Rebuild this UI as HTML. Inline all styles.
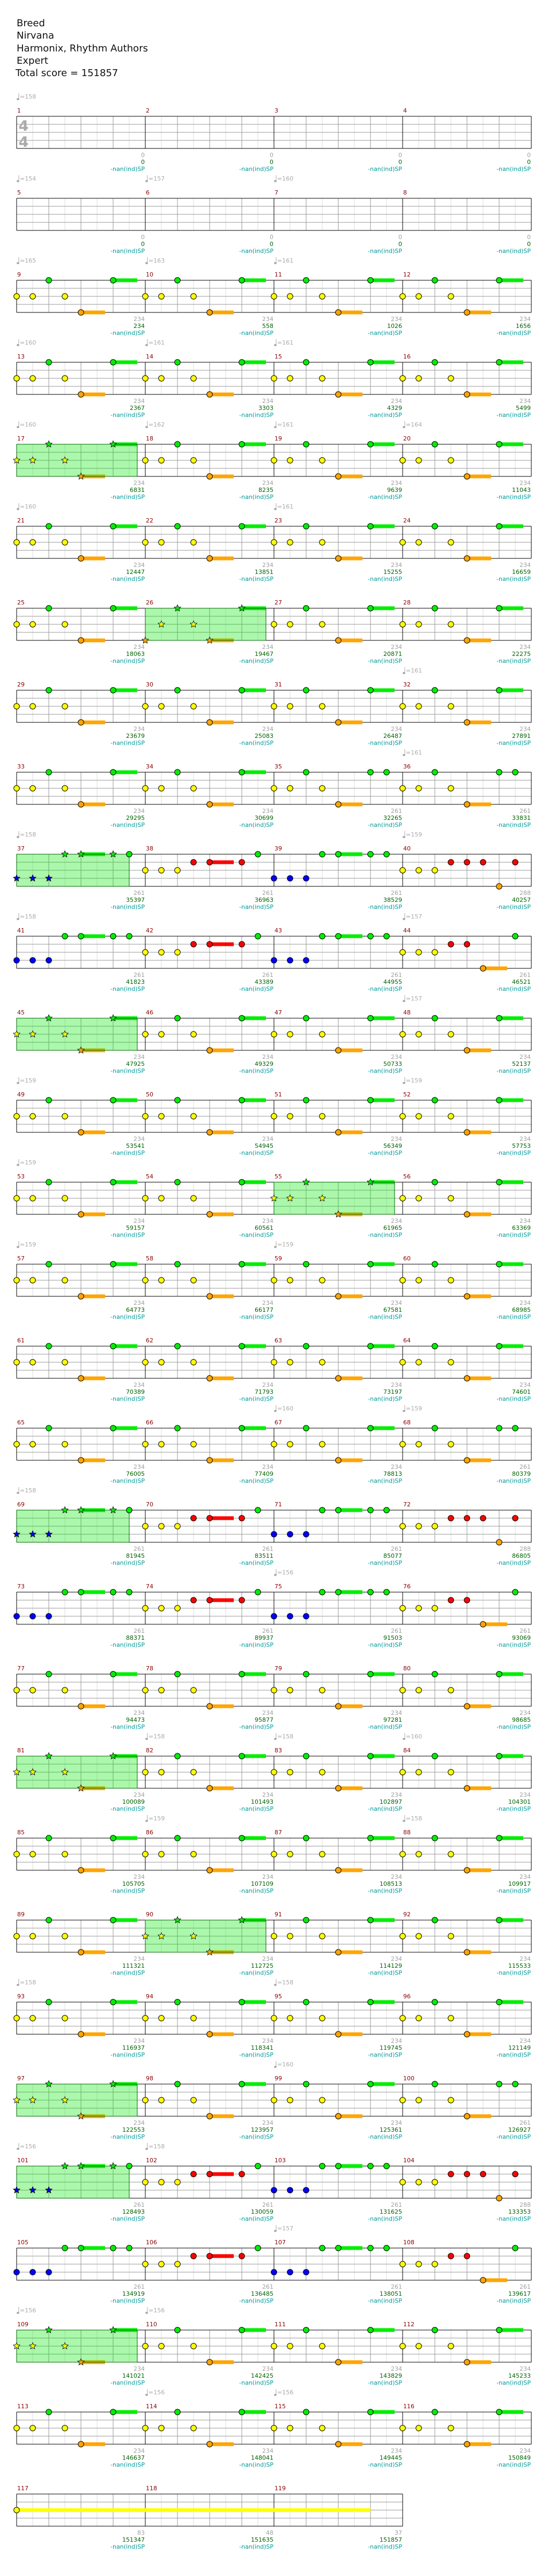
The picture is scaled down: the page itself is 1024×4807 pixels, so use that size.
<!DOCTYPE html>
<html><head><meta charset="utf-8"><title>Breed - Nirvana chart</title>
<style>
html,body{margin:0;padding:0;background:#fff;}
svg{display:block;}
</style></head>
<body>
<svg id="chart" xmlns="http://www.w3.org/2000/svg" width="1024" height="4807" viewBox="0 0 1024 4807">
<g font-family="'DejaVu Sans', 'Liberation Sans', sans-serif" font-size="18" fill="#111">
<text x="31" y="49">Breed</text>
<text x="31" y="72">Nirvana</text>
<text x="31" y="96">Harmonix, Rhythm Authors</text>
<text x="31" y="119">Expert</text>
<text x="29" y="142">Total score = 151857</text>
</g>
<g id="rows"></g>
</svg>
<script>
// ---- chart data ----
const measureCount = 119;
const patternA  = [[2,0,0],[2,0.5,0],[0,1,0],[2,1.5,0],[4,2,0.75],[0,3,0.75]];
const patternA2 = [[4,0,0],[2,0.5,0],[0,1,0],[2,1.5,0],[4,2,0.75],[0,3,0.75]];
const patternV  = [[2,0,0],[2,0.5,0],[0,1,0],[2,1.5,0],[4,2,0.75],[0,3,0],[0,3.5,0]];
const patternB1 = [[3,0,0],[3,0.5,0],[3,1,0],[0,1.5,0],[0,2,0.75],[0,3,0],[0,3.5,0]];
const patternB2 = [[2,0,0],[2,0.5,0],[2,1,0],[1,1.5,0],[1,2,0.75],[1,3,0],[0,3.5,0]];
const patternB3 = [[2,0,0],[2,0.5,0],[2,1,0],[1,1.5,0],[1,2,0],[1,2.5,0],[4,3,0],[1,3.5,0]];
const patternB4 = [[2,0,0],[2,0.5,0],[2,1,0],[1,1.5,0],[1,2,0],[4,2.5,0.75],[0,3.5,0]];
const patternEnd = [[2,0,11]];
const patterns = {E:[],A:patternA,A2:patternA2,V:patternV,B1:patternB1,B2:patternB2,B3:patternB3,B4:patternB4,END:patternEnd};
const measurePatterns = [
 'E','E','E','E','E','E','E','E',
 'A','A','A','A','A','A','A','A','A','A','A','A','A','A','A','A','A','A2','A','A','A','A','A','A','A','A','V','V',
 'B1','B2','B1','B3','B1','B2','B1','B4',
 'A','A','A','A','A','A','A','A','A','A','A','A','A','A','A','A','A','A','A','A','A','A','A','V',
 'B1','B2','B1','B3','B1','B2','B1','B4',
 'A','A','A','A','A','A','A','A','A','A','A','A','A','A','A','A','A','A','A','A','A','A','A','V',
 'B1','B2','B1','B3','B1','B2','B1','B4',
 'A','A','A','A','A','A','A','A',
 'END','E','E'];
const spMeasures = [17,26,37,45,55,69,81,90,97,101,109];
const spLengths  = [3.75,3.75,3.5,3.75,3.75,3.5,3.75,3.75,3.75,3.5,3.75];
const measureScores = [0,0,0,0,0,0,0,0,
 234,558,1026,1656,2367,3303,4329,5499,6831,8235,9639,11043,12447,13851,15255,16659,
 18063,19467,20871,22275,23679,25083,26487,27891,29295,30699,32265,33831,
 35397,36963,38529,40257,41823,43389,44955,46521,
 47925,49329,50733,52137,53541,54945,56349,57753,59157,60561,61965,63369,64773,66177,67581,68985,
 70389,71793,73197,74601,76005,77409,78813,80379,
 81945,83511,85077,86805,88371,89937,91503,93069,
 94473,95877,97281,98685,100089,101493,102897,104301,105705,107109,108513,109917,111321,112725,114129,115533,
 116937,118341,119745,121149,122553,123957,125361,126927,
 128493,130059,131625,133353,134919,136485,138051,139617,
 141021,142425,143829,145233,146637,148041,149445,150849,
 151347,151635,151857];
const baseScoreByPattern = {E:0,A:234,A2:234,V:261,B1:261,B2:261,B3:288,B4:261};
const endBaseScores = [83,48,37];
const tempoMeasures = [1,5,6,7,9,10,11,13,14,15,17,18,19,20,21,23,32,36,37,40,41,44,48,49,52,53,57,59,67,68,69,75,82,83,84,86,88,93,95,99,101,102,107,109,110,114,115];
const tempoValues   = [158,154,157,160,165,163,161,160,161,161,160,162,161,164,160,161,161,161,158,159,158,157,157,159,159,159,159,159,160,159,158,156,158,158,160,159,158,158,158,160,156,158,157,156,156,156,156];

// ---- layout ----
const X0 = 31, MW = 240, BW = 60, T0 = 217, ROWH = 153, LANE = 15;
const laneColors = ['#00ee00','#ff0000','#ffff00','#0000ff','#ffa500'];
const NS = 'http://www.w3.org/2000/svg';
const root = document.getElementById('rows');
function mk(tag, attrs, parent){ const e=document.createElementNS(NS,tag); for(const k in attrs) e.setAttribute(k,attrs[k]); (parent||root).appendChild(e); return e; }
function xOf(m, beat){ return X0 + ((m-1)%4)*MW + beat*BW; }
function yRow(m){ return T0 + Math.floor((m-1)/4)*ROWH; }
function yLane(m, lane){ return yRow(m) + lane*LANE; }
function baseScore(m){ if(m>=117) return endBaseScores[m-117]; return baseScoreByPattern[measurePatterns[m-1]]; }
function starPts(cx,cy,r){ let p=[]; for(let i=0;i<10;i++){ const a=-Math.PI/2+i*Math.PI/5; const rr=i%2?r*0.45:r; p.push((cx+rr*Math.cos(a)).toFixed(1)+','+(cy+rr*Math.sin(a)).toFixed(1)); } return p.join(' '); }

for(let m=1;m<=measureCount;m++){
  const g = mk('g',{});
  
  
  const x = xOf(m,0), T = yRow(m);
  // sub-beat lines
  for(let s=1;s<8;s+=2){ const l=mk('line',{x1:x+s*30,y1:T,x2:x+s*30,y2:T+60,stroke:'#dddddd','stroke-width':1},g); }
  for(let b=1;b<4;b++){ mk('line',{x1:x+b*BW,y1:T,x2:x+b*BW,y2:T+60,stroke:'#999999','stroke-width':1},g); }
  for(let k=1;k<4;k++){ mk('line',{x1:x,y1:T+k*LANE,x2:x+MW,y2:T+k*LANE,stroke:'#999999','stroke-width':1},g); }
  mk('line',{x1:x,y1:T,x2:x+MW,y2:T,stroke:'#000','stroke-width':1},g);
  mk('line',{x1:x,y1:T+60,x2:x+MW,y2:T+60,stroke:'#000','stroke-width':1},g);
  mk('line',{x1:x,y1:T,x2:x,y2:T+60,stroke:'#000','stroke-width':1},g);
  if(m%4===0 || m===measureCount) mk('line',{x1:x+MW,y1:T,x2:x+MW,y2:T+60,stroke:'#000','stroke-width':1},g);
  const num = mk('text',{x:x+1,y:T-7,'font-family':"'DejaVu Sans','Liberation Sans',sans-serif",'font-size':11,fill:'#8b0000'},g);
  
  
  num.textContent = m;
  const ex = x+MW-1;
  const t1 = mk('text',{x:ex,y:T+76,'text-anchor':'end','font-family':"'DejaVu Sans','Liberation Sans',sans-serif",'font-size':11,fill:'#a0a0a0'},g);
  
  
  t1.textContent = baseScore(m);
  const t2 = mk('text',{x:ex,y:T+89,'text-anchor':'end','font-family':"'DejaVu Sans','Liberation Sans',sans-serif",'font-size':11,fill:'#006400'},g);
  
  
  t2.textContent = measureScores[m-1];
  const t3 = mk('text',{x:ex,y:T+102,'text-anchor':'end','font-family':"'DejaVu Sans','Liberation Sans',sans-serif",'font-size':11,fill:'#009999'},g);
  
  
  t3.textContent = '-nan(ind)SP';
}
// time signature
for(let k=0;k<2;k++){
  const ts = mk('text',{x:44,y:yRow(1)+27+k*30,'text-anchor':'middle','font-family':"'DejaVu Sans',sans-serif",'font-size':27,'font-weight':'bold',fill:'#aaaaaa'});
  
  
  ts.textContent='4';
}
// tempo markers
tempoMeasures.forEach((m,i)=>{
  const x=xOf(m,0), y=yRow(m)-37;
  const g=mk('g',{});
  
  
  mk('line',{x1:x+4,y1:y-6,x2:x+4,y2:y+5,stroke:'#aaa','stroke-width':1},g);
  mk('ellipse',{cx:x+2.5,cy:y+5,rx:2.5,ry:2,fill:'#aaa'},g);
  const t=mk('text',{x:x+6,y:y+4,'font-family':"'DejaVu Sans','Liberation Sans',sans-serif",'font-size':11,fill:'#aaaaaa'},g);
  t.textContent='='+tempoValues[i];
});
function spEnd(m){ const i=spMeasures.indexOf(m); return i<0?-1:spLengths[i]; }
// sustains
for(let m=1;m<=measureCount;m++){
  patterns[measurePatterns[m-1]].forEach(n=>{
    if(n[2]>0){
      // long sustains may cross measures; draw segment per row
      let beatsLeft=n[2], cm=m, cb=n[1];
      while(beatsLeft>0){
        const room=4-cb, seg=Math.min(room,beatsLeft);
        const r=mk('rect',{x:xOf(cm,cb),y:yLane(cm,n[0])-3.5,width:seg*BW,height:7,fill:laneColors[n[0]]});
        
        
        beatsLeft-=seg; cm++; cb=0;
      }
    }
  });
}
// star power overlays
spMeasures.forEach((m,i)=>{
  const r=mk('rect',{x:xOf(m,0),y:yRow(m),width:spLengths[i]*BW,height:60,fill:'rgba(0,230,0,0.33)',stroke:'#006400','stroke-width':1});
  
  
});
// notes
for(let m=1;m<=measureCount;m++){
  const se=spEnd(m);
  patterns[measurePatterns[m-1]].forEach(n=>{
    const cx=xOf(m,n[1]), cy=yLane(m,n[0]);
    let e;
    if(se>0 && n[1]<se){
      e=mk('polygon',{points:starPts(cx,cy,6.5),fill:laneColors[n[0]],stroke:'#000','stroke-width':0.8});
      
    } else {
      e=mk('circle',{cx:cx,cy:cy,r:5.3,fill:laneColors[n[0]],stroke:'#000','stroke-width':1});
      
    }
    
  });
}
</script>
</body></html>
